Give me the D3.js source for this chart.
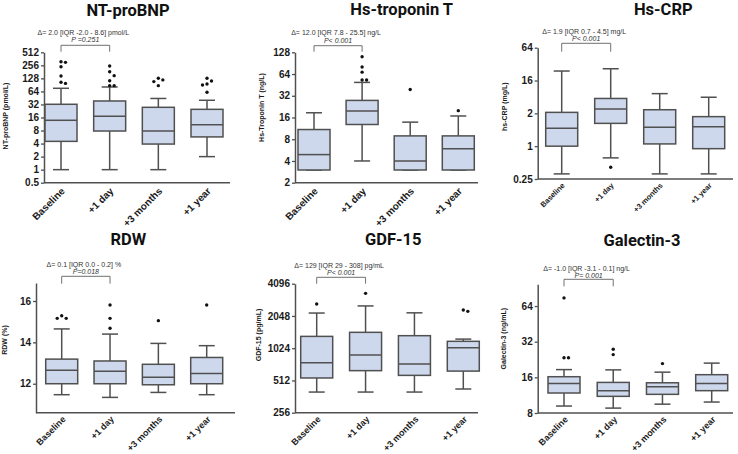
<!DOCTYPE html>
<html><head><meta charset="utf-8">
<script src="https://cdn.jsdelivr.net/npm/d3@7"></script>
<style>body{margin:0;background:#fff}</style>
</head><body><svg id="c" width="738" height="454"></svg>
<script>
const categories = ["Baseline", "+1 day", "+3 months", "+1 year"];

// box stats per category: [lower whisker, Q1, median, Q3, upper whisker]
const ntprobnpBoxes = [[1, 4.5, 13.8, 32.3, 75.6], [1, 7.8, 17, 38.5, 81], [1, 3.9, 7.8, 27.5, 44], [2, 5.7, 10.9, 24.7, 40]];
const ntprobnpOutliers = [[311, 300, 238, 145, 104, 98], [247, 182, 148, 113, 87, 87], [129, 118, 108, 87], [129, 111, 95, 90, 61]];
const ntprobnpTicks = [0.5, 1, 2, 4, 8, 16, 32, 64, 128, 256, 512];
const ntprobnpTickLabels = ["0.5", "1", "2", "4", "8", "16", "32", "64", "128", "256", "512"];

const troponinBoxes = [[3, 3, 4.9, 10.9, 18.6], [4, 12.8, 19.7, 27.6, 49], [3, 3, 4, 8.9, 13.8], [3, 3, 5.9, 8.9, 16.8]];
const troponinOutliers = [[], [111, 80, 68, 53, 53], [39], [19.9]];
const troponinTicks = [2, 4, 8, 16, 32, 64, 128];
const troponinTickLabels = ["2", "4", "8", "16", "32", "64", "128"];

const crpBoxes = [[0.31, 1.0, 2.14, 4.17, 23.9], [0.61, 2.62, 4.8, 7.5, 26.3], [0.31, 1.1, 2.22, 4.66, 9.2], [0.31, 0.9, 2.28, 3.48, 7.9]];
const crpOutliers = [[], [0.41], [], []];
const crpTicks = [0.25, 1, 4, 16, 64];
const crpTickLabels = ["0.25", "1", "2", "16", "64"];

const rdwBoxes = [[11.47, 12.0, 12.65, 13.19, 14.65], [11.34, 12.0, 12.6, 13.1, 14.4], [11.58, 11.95, 12.31, 12.94, 13.95], [11.47, 12.0, 12.5, 13.27, 13.84]];
const rdwOutliers = [[15.29, 15.16, 15.16], [15.81, 15.16, 14.68], [15.05], [15.81]];
const rdwTicks = [12, 14, 16];
const rdwTickLabels = ["12", "14", "16"];

const gdfBoxes = [[399, 540, 750, 1320, 2180], [399, 632, 885, 1440, 2540], [399, 571, 729, 1340, 2190], [426, 626, 1035, 1187, 1245]];
const gdfOutliers = [[2650], [3330], [], [2330, 2260]];
const gdfTicks = [256, 512, 1024, 2048, 4096];
const gdfTickLabels = ["256", "512", "1024", "2048", "4096"];

const galBoxes = [[9.16, 11.8, 14.2, 16.2, 18.6], [8.8, 11.06, 12.35, 14.5, 18.5], [9.5, 11.5, 13.3, 14.4, 17.7], [9.9, 12.35, 14.2, 16.85, 21.1]];
const galOutliers = [[75, 23.4, 23.4], [27.6, 24.9], [20.9], []];
const galTicks = [8, 16, 32, 64];
const galTickLabels = ["8", "16", "32", "64"];

const titles = ["NT-proBNP", "Hs-troponin T", "Hs-CRP", "RDW", "GDF-15", "Galectin-3"];
const yLabels = ["NT-proBNP (pmol/L)", "Hs-Troponin T (ng/L)", "hs-CRP (mg/L)", "RDW (%)", "GDF-15 (pg/mL)", "Galectin-3 (ng/mL)"];
const deltaTexts = ["Δ= 2.0 [IQR -2.0 - 8.6] pmol/L", "Δ= 12.0 [IQR 7.8 - 25.5] ng/L", "Δ= 1.9 [IQR 0.7 - 4.5] mg/L",
                    "Δ= 0.1 [IQR 0.0 - 0.2] %", "Δ= 129 [IQR 29 - 308] pg/mL", "Δ= -1.0 [IQR -3.1 - 0.1] ng/L"];
const pTexts = ["P =0.251", "P< 0.001", "P< 0.001", "P=0.018", "P< 0.001", "P= 0.001"];

// layout (pixel frames for each panel)
const panels = [
  {boxes: ntprobnpBoxes, out: ntprobnpOutliers, ticks: ntprobnpTicks, labels: ntprobnpTickLabels,
   y: d3.scaleLog().base(2).domain([0.5, 512]).range([182.7, 52.3]),
   ax: 44, axEnd: 230, cx: [61, 207], title: [128, 15.6], yl: [5.5, 116], xfs: 10, xoff: [4, 9],
   ann: [35, 42.2, 45.3, 51.7]},
  {boxes: troponinBoxes, out: troponinOutliers, ticks: troponinTicks, labels: troponinTickLabels,
   y: d3.scaleLog().base(2).domain([2, 128]).range([182.7, 52.3]),
   ax: 295, axEnd: 478, cx: [314, 458.3], title: [401.7, 15.4], yl: [261.7, 107.5], xfs: 10, xoff: [4, 9],
   ann: [35, 42.5, 45.7, 51.7]},
  {boxes: crpBoxes, out: crpOutliers, ticks: crpTicks, labels: crpTickLabels,
   y: d3.scaleLog().base(4).domain([0.25, 64]).range([179, 47.7]),
   ax: 537.7, axEnd: 733, cx: [561.7, 708.7], title: [663.3, 15.4], yl: [505, 106.7], xfs: 7.5, xoff: [3, 7],
   ann: [34, 41.3, 43.3, 51.7]},
  {boxes: rdwBoxes, out: rdwOutliers, ticks: rdwTicks, labels: rdwTickLabels,
   y: d3.scaleLinear().domain([10.6, 16.87]).range([412.7, 283]),
   ax: 36, axEnd: 235, cx: [61.7, 206.7], title: [128.3, 245.3], yl: [5, 340], xfs: 9, xoff: [4, 7],
   ann: [267, 273.7, 276.3, 283.7]},
  {boxes: gdfBoxes, out: gdfOutliers, ticks: gdfTicks, labels: gdfTickLabels,
   y: d3.scaleLog().base(2).domain([256, 4096]).range([412.7, 283.7]),
   ax: 295, axEnd: 478, cx: [316.7, 463.3], title: [393.3, 245.3], yl: [258.3, 335], xfs: 9, xoff: [4, 7],
   ann: [268, 275.3, 277.3, 283.7]},
  {boxes: galBoxes, out: galOutliers, ticks: galTicks, labels: galTickLabels,
   y: d3.scaleLog().base(2).domain([8, 97.7]).range([413, 284.3]),
   ax: 537.7, axEnd: 733, cx: [564, 711.7], title: [642, 246.3], yl: [504, 338.7], xfs: 9, xoff: [4, 7],
   ann: [270.7, 277.7, 279.3, 286.3]}
];

const svg = d3.select("#c");
const LINE = "#505050", FILL = "#cdd8ec";
const AX_FONT = "'Liberation Sans', Arial, sans-serif";

function dodge(vals, y, cx) {
  const placed = [];
  const s = 4.5, minD = 4;
  vals.slice().sort((a, b) => b - a).forEach(v => {
    const py = y(v);
    for (const off of [0, s, -s, 2 * s, -2 * s, 3 * s, -3 * s]) {
      const px = cx + off;
      if (placed.every(p => Math.hypot(p.x - px, p.y - py) >= minD)) { placed.push({x: px, y: py}); break; }
    }
  });
  return placed;
}

panels.forEach((p, i) => {
  const g = svg.append("g");
  const y = p.y;
  const yb = y.range()[0];
  const x = d3.scalePoint().domain(categories).range(p.cx);

  // title
  g.append("text").attr("x", p.title[0]).attr("y", p.title[1]).attr("text-anchor", "middle")
    .style("font-family", "Roboto, sans-serif").style("font-weight", 700).style("font-size", "16.5px")
    .attr("fill", "#111").text(titles[i]);

  // y axis
  const yAxis = d3.axisLeft(y).tickValues(p.ticks).tickFormat((d, k) => p.labels[k]).tickSize(3).tickSizeOuter(0).tickPadding(2);
  const ya = g.append("g").attr("transform", `translate(${p.ax},0)`).call(yAxis);
  ya.select(".domain").attr("stroke", LINE).attr("stroke-width", 1.5);
  ya.selectAll(".tick line").attr("stroke", LINE).attr("stroke-width", 1.3);
  ya.selectAll(".tick text").attr("fill", "#1a1a1a").style("font-family", AX_FONT).style("font-weight", 700).style("font-size", "10px");

  // x axis line
  g.append("line").attr("x1", p.ax).attr("x2", p.axEnd).attr("y1", yb).attr("y2", yb)
    .attr("stroke", LINE).attr("stroke-width", 1.5);
  // x labels
  const xAxis = d3.axisBottom(x).tickSize(0).tickPadding(0);
  const xa = g.append("g").attr("transform", `translate(0,${yb})`).call(xAxis);
  xa.select(".domain").remove();
  xa.selectAll(".tick text")
    .attr("text-anchor", "end").attr("x", 0).attr("y", 0).attr("dy", 0)
    .attr("transform", `translate(${p.xoff[0]},${p.xoff[1]}) rotate(-45)`)
    .attr("fill", "#1a1a1a").style("font-family", AX_FONT).style("font-weight", 700).style("font-size", p.xfs + "px");

  // y label
  g.append("text").attr("transform", `translate(${p.yl[0]},${p.yl[1]}) rotate(-90)`).attr("text-anchor", "middle")
    .attr("dy", "0.35em").attr("fill", "#1a1a1a").style("font-family", AX_FONT).style("font-weight", 700)
    .style("font-size", "7px").text(yLabels[i]);

  // boxes
  const bw = 32, cw = 16;
  p.boxes.forEach((b, k) => {
    const cx = x(categories[k]);
    const [lo, q1, md, q3, hi] = b;
    const bg = g.append("g").attr("stroke", LINE).attr("stroke-width", 1.5).attr("fill", "none");
    bg.append("line").attr("x1", cx).attr("x2", cx).attr("y1", y(hi)).attr("y2", y(q3));
    bg.append("line").attr("x1", cx).attr("x2", cx).attr("y1", y(q1)).attr("y2", y(lo));
    bg.append("line").attr("x1", cx - cw / 2).attr("x2", cx + cw / 2).attr("y1", y(hi)).attr("y2", y(hi));
    bg.append("line").attr("x1", cx - cw / 2).attr("x2", cx + cw / 2).attr("y1", y(lo)).attr("y2", y(lo));
    bg.append("rect").attr("x", cx - bw / 2).attr("width", bw).attr("y", y(q3)).attr("height", y(q1) - y(q3)).attr("fill", FILL);
    bg.append("line").attr("x1", cx - bw / 2).attr("x2", cx + bw / 2).attr("y1", y(md)).attr("y2", y(md));
    // outliers
    g.selectAll(null).data(dodge(p.out[k], y, cx)).join("circle")
      .attr("cx", d => d.x).attr("cy", d => d.y).attr("r", 1.7).attr("fill", "#111");
  });

  // annotation bracket
  const bx0 = x(categories[0]), bx1 = x(categories[1]), bc = (bx0 + bx1) / 2;
  const [t1, t2, btop, bbot] = p.ann;
  g.append("path").attr("d", `M${bx0},${bbot}V${btop}H${bx1}V${bbot}`)
    .attr("fill", "none").attr("stroke", "#707070").attr("stroke-width", 1);
  g.append("text").attr("x", bc - 2).attr("y", t1).attr("text-anchor", "middle").attr("fill", "#333")
    .style("font-family", AX_FONT).style("font-size", "7px").text(deltaTexts[i]);
  g.append("text").attr("x", bc).attr("y", t2).attr("text-anchor", "middle").attr("fill", "#333")
    .style("font-family", AX_FONT).style("font-size", "7px").style("font-style", "italic").text(pTexts[i]);
});
</script>
</body></html>
